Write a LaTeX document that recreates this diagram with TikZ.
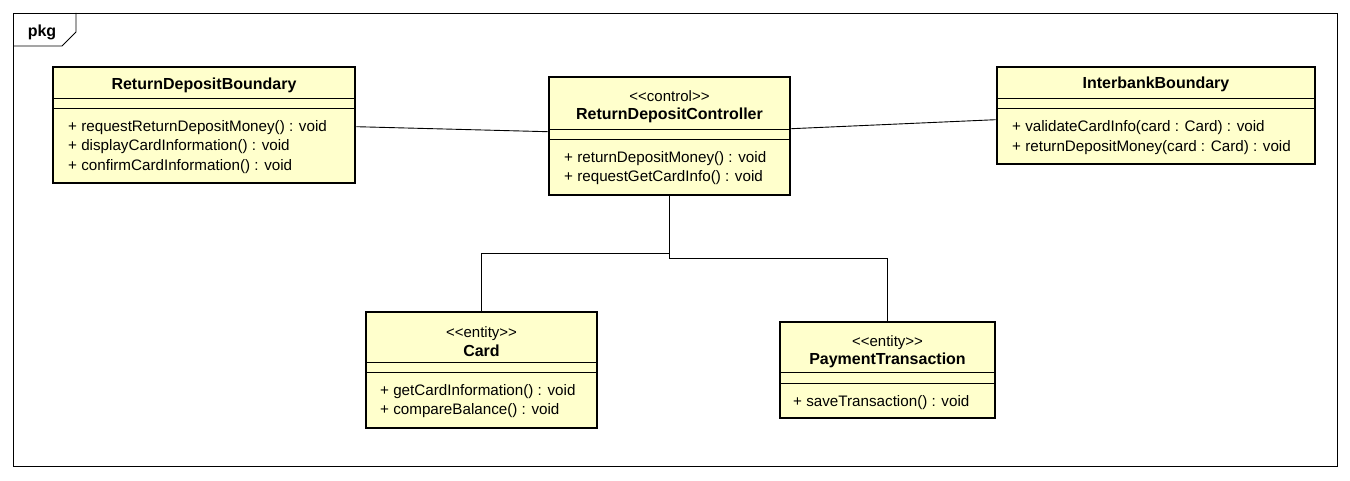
\documentclass[tikz,border=0pt]{standalone}
\usepackage{fontspec}
\setmainfont{Liberation Sans}
\usepackage{xcolor}
\usepackage{tikz}

\definecolor{classfill}{HTML}{FFFFCC}
\tikzset{
  classbox/.style={draw, line width=2.6pt, fill=classfill, inner sep=0pt},
  sepline/.style={line width=0.9pt},
  link/.style={line width=0.9pt},
  title/.style={font=\fontsize{16}{19}\selectfont\bfseries, inner sep=0pt},
  stereo/.style={font=\fontsize{15}{18}\selectfont, inner sep=0pt},
  member/.style={anchor=west, font=\fontsize{15.2}{18}\selectfont, inner sep=0pt},
}

\begin{document}
\begin{tikzpicture}[x=1pt,y=-1pt]
\useasboundingbox (0,0) rectangle (1350,481);
\draw[line width=0.8pt] (13,13) rectangle (1337,466);
\draw[line width=0.8pt] (13,46)--(62,46)--(76,32)--(76,13);
\node[title] (pkg) at (42,32) {pkg};

% classes
\node[classbox, minimum width=302pt, minimum height=116pt] (bnd) at (204,125) {};
\node[classbox, minimum width=241pt, minimum height=118pt] (ctl) at (669.5,136) {};
\node[classbox, minimum width=318pt, minimum height=97pt] (ibk) at (1156,115.5) {};
\node[classbox, minimum width=231pt, minimum height=116pt] (card) at (481.5,370) {};
\node[classbox, minimum width=215pt, minimum height=96pt] (pay) at (887.5,370) {};

\draw[sepline] (53,98)--(355,98);
\draw[sepline] (53,108)--(355,108);
\draw[sepline] (549,129)--(790,129);
\draw[sepline] (549,139)--(790,139);
\draw[sepline] (997,98)--(1315,98);
\draw[sepline] (997,108)--(1315,108);
\draw[sepline] (366,362)--(597,362);
\draw[sepline] (366,372)--(597,372);
\draw[sepline] (780,372)--(995,372);
\draw[sepline] (780,383)--(995,383);

\node[title] (bndname) at (204,85.5) {ReturnDepositBoundary};
\node[member] (bndop1) at (68,128) {+ requestReturnDepositMoney() : void};
\node[member] (bndop2) at (68,147) {+ displayCardInformation() : void};
\node[member] (bndop3) at (68,167) {+ confirmCardInformation() : void};

\node[stereo] (ctlst) at (669.5,96.5) {<{}<control>{}>};
\node[title] (ctlname) at (669.5,115.5) {ReturnDepositController};
\node[member] (ctlop1) at (564,159) {+ returnDepositMoney() : void};
\node[member] (ctlop2) at (564,178) {+ requestGetCardInfo() : void};

\node[title] (ibkname) at (1156,84.5) {InterbankBoundary};
\node[member] (ibkop1) at (1012,128) {+ validateCardInfo(card : Card) : void};
\node[member] (ibkop2) at (1012,148) {+ returnDepositMoney(card : Card) : void};

\node[stereo] (cardst) at (481.5,333.5) {<{}<entity>{}>};
\node[title] (cardname) at (481.5,350.5) {Card};
\node[member] (cardop1) at (380,392) {+ getCardInformation() : void};
\node[member] (cardop2) at (380,411) {+ compareBalance() : void};

\node[stereo] (payst) at (887.5,342.5) {<{}<entity>{}>};
\node[title] (payname) at (887.5,360.5) {PaymentTransaction};
\node[member] (payop1) at (793,403) {+ saveTransaction() : void};

% associations
\draw[link] ([yshift=-61pt]bnd.north east) -- ([yshift=-56pt]ctl.north west);
\draw[link] ([yshift=-53pt]ctl.north east) -- ([yshift=-54pt]ibk.north west);
\draw[link] (ctl.south) -- ++(0,57) -| (card.north);
\draw[link] (ctl.south) -- ++(0,62) -| (pay.north);
\end{tikzpicture}
\end{document}
